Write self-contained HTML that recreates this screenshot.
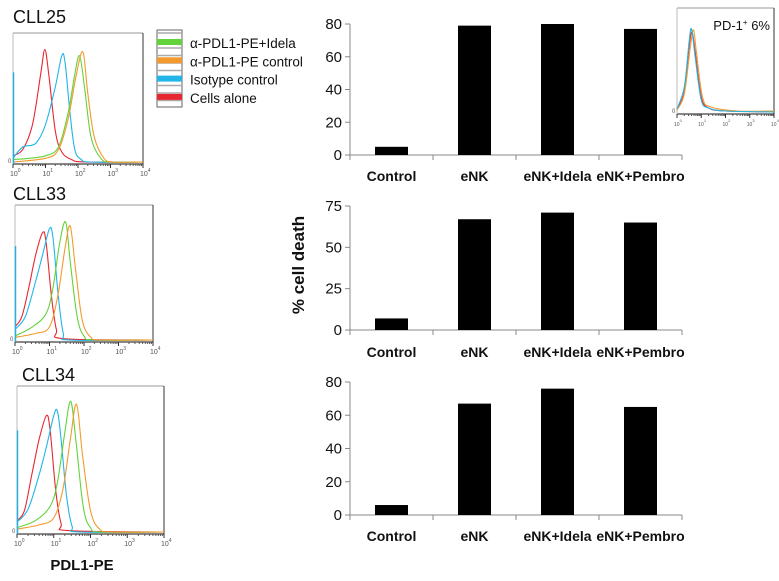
<!DOCTYPE html>
<html><head><meta charset="utf-8"><style>
body{margin:0;background:#fff;width:779px;height:581px;overflow:hidden;font-family:"Liberation Sans",sans-serif}
svg{position:absolute;left:0;top:0}
</style></head><body>
<svg id="s" width="779" height="581" xmlns="http://www.w3.org/2000/svg"></svg>
<script>
// ---- bar chart data ----
const categories=["Control","eNK","eNK+Idela","eNK+Pembro"];
const cll25Values=[5,79,80,77];
const cll33Values=[7,67,71,65];
const cll34Values=[6,67,76,65];
const ticks25=[0,20,40,60,80];
const ticks33=[0,25,50,75];
const ticks34=[0,20,40,60,80];
// ---- histogram data: [log10 PDL1-PE, % of max count] ----
const h25Red=[[0,5],[0.3,10],[0.6,30],[0.85,70],[0.98,90],[1.1,70],[1.3,25],[1.5,8],[1.8,2],[2.2,0],[4,0]];
const h25Blue=[[0,3],[0.3,12],[0.7,15],[1.0,30],[1.3,60],[1.5,85],[1.6,80],[1.75,40],[1.9,10],[2.1,2],[2.4,0],[4,0]];
const h25Green=[[0,2],[0.5,3],[1.0,5],[1.4,12],[1.7,40],[1.9,70],[2.05,85],[2.2,60],[2.4,20],[2.7,3],[3,0],[4,0]];
const h25Orange=[[0,0],[1,3],[1.4,10],[1.7,35],[1.95,70],[2.15,88],[2.3,55],[2.5,20],[2.8,3],[3.1,0],[4,0]];
const h33Red=[[0,10],[0.2,18],[0.4,40],[0.6,65],[0.8,82],[0.9,75],[1.05,35],[1.2,8],[1.4,1],[4,0]];
const h33Blue=[[0,8],[0.3,18],[0.6,45],[0.8,65],[1.0,85],[1.1,78],[1.25,35],[1.4,5],[1.6,0],[4,0]];
const h33Green=[[0,3],[0.5,10],[0.9,20],[1.1,40],[1.3,75],[1.47,90],[1.6,60],[1.8,18],[2.0,3],[2.3,0],[4,0]];
const h33Orange=[[0,2],[0.6,5],[1.0,10],[1.25,35],[1.45,70],[1.6,87],[1.75,55],[1.95,15],[2.2,2],[2.5,0],[4,0]];
const h34Red=[[0,8],[0.2,15],[0.4,40],[0.6,65],[0.8,82],[0.9,72],[1.05,30],[1.2,6],[1.4,1],[4,0]];
const h34Blue=[[0,7],[0.3,16],[0.6,40],[0.8,60],[1.0,82],[1.1,85],[1.2,65],[1.35,25],[1.5,4],[1.7,0],[4,0]];
const h34Green=[[0,3],[0.5,8],[0.9,18],[1.1,35],[1.3,70],[1.46,92],[1.6,65],[1.8,18],[2.0,3],[2.3,0],[4,0]];
const h34Orange=[[0,2],[0.6,5],[1.0,10],[1.25,30],[1.45,65],[1.62,90],[1.78,55],[2.0,15],[2.25,2],[2.6,0],[4,0]];
const insetRed=[[0,3],[0.3,20],[0.5,65],[0.62,80],[0.75,60],[1.0,15],[1.3,4],[2,1],[4,0]];
const insetBlue=[[0,3],[0.3,25],[0.5,70],[0.6,83],[0.75,55],[1.0,12],[1.3,4],[2,1],[4,0]];
const insetOrange=[[0,2],[0.3,18],[0.55,65],[0.68,82],[0.8,60],[1.05,15],[1.4,5],[2.5,1],[4,1]];

const NS="http://www.w3.org/2000/svg",S=document.getElementById('s');
function el(t,a,txt,p){const e=document.createElementNS(NS,t);for(const k in a)e.setAttribute(k,a[k]);if(txt!=null)e.textContent=txt;(p||S).appendChild(e);return e;}

function barChart(vals,ticks,max,y0,yTop,lblY,id){
  const x0=350,x1=682,bw=33,step=(x1-x0)/categories.length;
  const ys=v=>y0-(v/max)*(y0-yTop);
  const g=el('g',{});
  el('line',{x1:x0,y1:ys(max),x2:x0,y2:y0,stroke:'#888','stroke-width':1},null,g);
  el('line',{x1:x0,y1:y0,x2:x1,y2:y0,stroke:'#888','stroke-width':1},null,g);
  ticks.forEach(t=>{const y=ys(t);
    el('line',{x1:x0-5,y1:y,x2:x0,y2:y,stroke:'#888'},null,g);
    const tx=el('text',{x:x0-8,y:y+5,'text-anchor':'end','font-size':15,fill:'#111'},t,g);
    });
  for(let i=0;i<=categories.length;i++){const x=x0+i*step;el('line',{x1:x,y1:y0,x2:x,y2:y0+5,stroke:'#888'},null,g);}
  vals.forEach((v,i)=>{const cx=x0+step*(i+0.5);
    const r=el('rect',{x:cx-bw/2,y:ys(v),width:bw,height:y0-ys(v),fill:'#000'},null,g);
    
    
    const t=el('text',{x:cx,y:lblY,'text-anchor':'middle','font-size':14,'font-weight':'bold',fill:'#111'},categories[i],g);
    });
}
barChart(cll25Values,ticks25,80,155,24,181,'cll25-bar-chart');
barChart(cll33Values,ticks33,75,330,206,357,'cll33-bar-chart');
barChart(cll34Values,ticks34,80,515,382,541,'cll34-bar-chart');
const yl=el('text',{x:0,y:0,transform:'translate(304,265) rotate(-90)','text-anchor':'middle','font-size':17,'font-weight':'bold',fill:'#111'},'% cell death');


function smooth(pts){
  let d='M'+pts[0][0].toFixed(1)+','+pts[0][1].toFixed(1);
  for(let i=0;i<pts.length-1;i++){
    const p0=pts[Math.max(0,i-1)],p1=pts[i],p2=pts[i+1],p3=pts[Math.min(pts.length-1,i+2)];
    const c1=[p1[0]+(p2[0]-p0[0])/6,p1[1]+(p2[1]-p0[1])/6],c2=[p2[0]-(p3[0]-p1[0])/6,p2[1]-(p3[1]-p1[1])/6];
    d+=' C'+c1.map(v=>v.toFixed(1)).join(',')+' '+c2.map(v=>v.toFixed(1)).join(',')+' '+p2.map(v=>v.toFixed(1)).join(',');
  }
  return d;
}
function hist(bx,by,bw,bh,curves,name,small){
  const g=el('g',{});
  const xs=l=>bx+l/4*bw, ys=p=>by+bh-2-p/100*(bh-6);
  el('line',{x1:bx,y1:by,x2:bx+bw,y2:by,stroke:'#999'},null,g);
  el('line',{x1:bx+bw,y1:by,x2:bx+bw,y2:by+bh,stroke:'#333'},null,g);
  el('line',{x1:bx,y1:by+bh,x2:bx+bw,y2:by+bh,stroke:'#111'},null,g);
  el('line',{x1:bx,y1:by,x2:bx,y2:by+bh,stroke:'#bbb'},null,g);
  curves.forEach(([d,c,nm])=>{
    const p=el('path',{d:smooth(d.map(q=>[xs(q[0]),ys(q[1])])),fill:'none',stroke:c,'stroke-width':1.1},null,g);
    });
  if(!small)el('line',{x1:bx+0.5,y1:by+bh*0.3,x2:bx+0.5,y2:by+bh,stroke:'#2ab0e0','stroke-width':1.5},null,g);
  el('text',{x:bx-5,y:by+bh-1,'font-size':6,fill:'#555'},'0',g);
  for(let d=0;d<=4;d++){const x=xs(d);
    el('line',{x1:x,y1:by+bh,x2:x,y2:by+bh+4,stroke:'#333'},null,g);
    for(let m=2;m<10&&d<4;m++){const xm=xs(d+Math.log10(m));el('line',{x1:xm,y1:by+bh,x2:xm,y2:by+bh+2,stroke:'#555'},null,g);}
    const t=el('text',{x:x-3,y:by+bh+12,'font-size':small?5:7,fill:'#555'},'10',g);
    el('tspan',{dy:-4,'font-size':small?4:5},String(d),t);}
}
const R='#e8262f',B='#22b5e8',G='#62d33a',O='#f39a2e';
hist(13,33,130,131,[[h25Red,R,'cells-alone-curve'],[h25Blue,B,'isotype-curve'],[h25Green,G,'pdl1-idela-curve'],[h25Orange,O,'pdl1-control-curve']],'cll25-histogram');
hist(15,205,138,137,[[h33Red,R,'cells-alone-curve'],[h33Blue,B,'isotype-curve'],[h33Green,G,'pdl1-idela-curve'],[h33Orange,O,'pdl1-control-curve']],'cll33-histogram');
hist(17,386,147,148,[[h34Red,R,'cells-alone-curve'],[h34Blue,B,'isotype-curve'],[h34Green,G,'pdl1-idela-curve'],[h34Orange,O,'pdl1-control-curve']],'cll34-histogram');
hist(677,8,97,106,[[insetRed,R,'inset-red-curve'],[insetOrange,O,'inset-orange-curve'],[insetBlue,B,'inset-blue-curve']],'pd1-inset',true);
const it=el('text',{x:770,y:30,'text-anchor':'end','font-size':13,fill:'#111'},'PD-1');
el('tspan',{dy:-5,'font-size':8},'+',it);el('tspan',{dy:5},' 6%',it);


[['CLL25',13,23],['CLL33',13,200],['CLL34',22,381]].forEach(([t,x,y])=>{
  const e=el('text',{x:x,y:y,'font-size':18,fill:'#111'},t);});
const xt=el('text',{x:82,y:570,'text-anchor':'middle','font-size':15,'font-weight':'bold',fill:'#111'},'PDL1-PE');


const legLabels=['\u03b1-PDL1-PE+Idela','\u03b1-PDL1-PE control','Isotype control','Cells alone'];
const legColors=[G,O,B,R];
el('rect',{x:157,y:30,width:25,height:77,fill:'#fff',stroke:'#666'});
for(let k=0;k<10;k++)el('line',{x1:157,y1:33+k*7.5,x2:182,y2:33+k*7.5,stroke:'#aaa','stroke-width':1.5});
legLabels.forEach((l,i)=>{const y=43+i*18.3;
  const r=el('rect',{x:157,y:y-4,width:25,height:6,fill:legColors[i]});
  
  const t=el('text',{x:190,y:y+5,'font-size':13.5,fill:'#111'},l);
  });
</script>
</body></html>
